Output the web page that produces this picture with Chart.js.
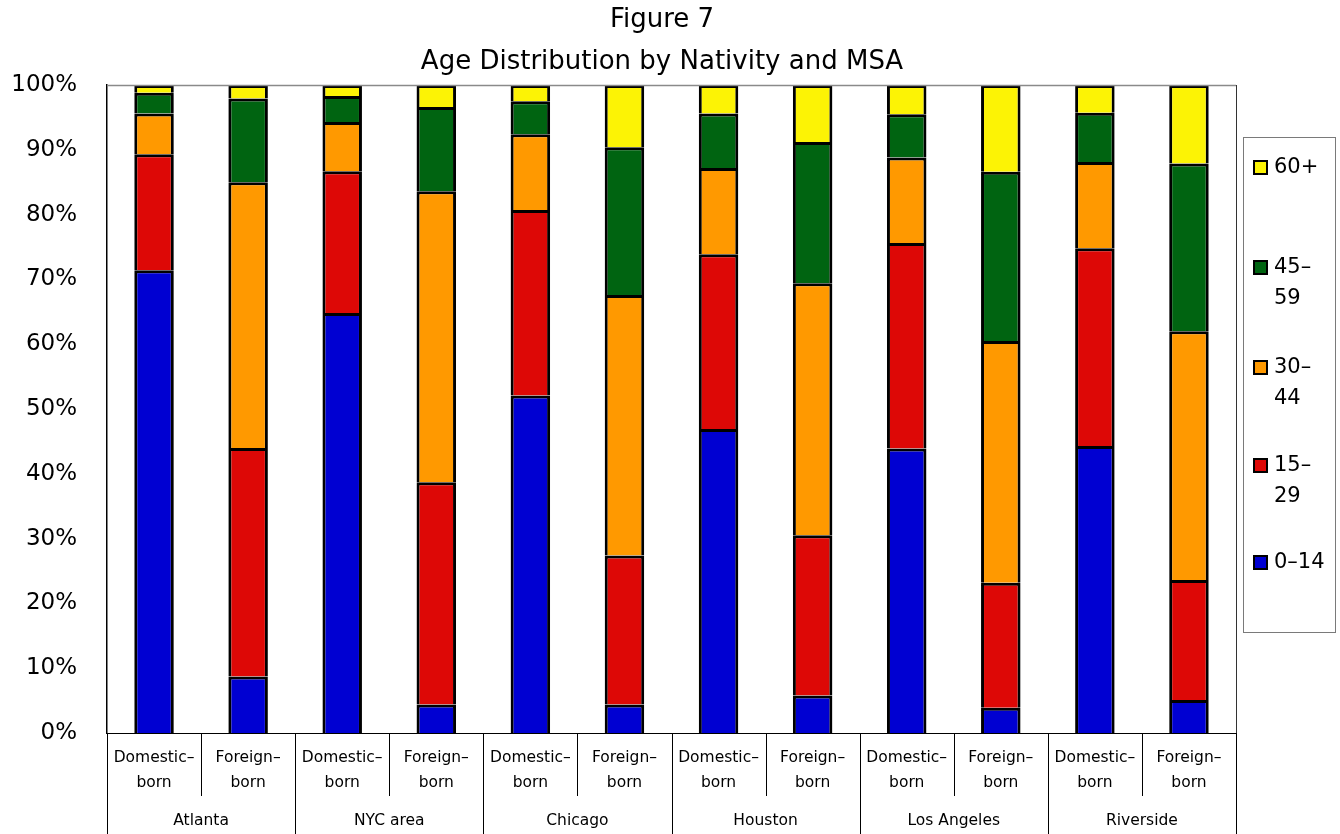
<!DOCTYPE html>
<html>
<head>
<meta charset="utf-8">
<script src="https://cdn.jsdelivr.net/npm/chart.js@4/dist/chart.umd.min.js"></script>
<style>
  html, body { margin: 0; padding: 0; background: #ffffff; }
  #wrap { width: 1340px; height: 834px; position: relative; }
</style>
</head>
<body>
<div id="wrap"><canvas id="c" width="1340" height="834"></canvas></div>
<script>
// ---- Data ----
const subLabels = ["Domestic–born", "Foreign–born", "Domestic–born", "Foreign–born", "Domestic–born", "Foreign–born",
                   "Domestic–born", "Foreign–born", "Domestic–born", "Foreign–born", "Domestic–born", "Foreign–born"];
const groupLabels = ["Atlanta", "NYC area", "Chicago", "Houston", "Los Angeles", "Riverside"];
const seriesNames = ["0–14", "15–29", "30–44", "45–59", "60+"];
const age0to14  = [71.4, 8.7, 64.8, 4.4, 52.1, 4.4, 46.9, 5.8, 43.9, 3.9, 44.3, 5.1];
const age15to29 = [17.9, 35.3, 21.9, 34.3, 28.6, 23.0, 27.0, 24.7, 31.7, 19.3, 30.5, 18.5];
const age30to44 = [6.3, 41.0, 7.6, 44.9, 11.7, 40.2, 13.3, 38.9, 13.2, 37.3, 13.3, 38.4];
const age45to59 = [3.2, 12.9, 4.0, 13.0, 5.1, 22.8, 8.4, 21.8, 6.7, 26.1, 7.6, 25.9];
const age60plus = [1.2, 2.1, 1.7, 3.4, 2.5, 9.6, 4.4, 8.8, 4.5, 13.4, 4.3, 12.1];
const yTicks = [0, 10, 20, 30, 40, 50, 60, 70, 80, 90, 100];
const titleLines = ["Figure 7", "Age Distribution by Nativity and MSA"];
// legend text split into lines as in the reference
const legendLines = [["0–14"], ["15–", "29"], ["30–", "44"], ["45–", "59"], ["60+"]];

// ---- Styles ----
const FONT = "'DejaVu Sans', 'Lucida Grande', Verdana, sans-serif";
const colors = ["#0000D2", "#DD0806", "#FF9900", "#006411", "#FCF305"];
const seriesValues = [age0to14, age15to29, age30to44, age45to59, age60plus];

const datasets = seriesNames.map((name, i) => ({
  label: name,
  data: seriesValues[i],
  backgroundColor: colors[i],
  borderColor: "#000000",
  borderWidth: 3,
  borderSkipped: "start",
  inflateAmount: 0,
  barPercentage: 0.42,
  categoryPercentage: 1.0
}));

const frameAndLabels = {
  id: "frameAndLabels",
  afterDraw(chart) {
    const ctx = chart.ctx;
    const a = chart.chartArea;
    const xs = chart.scales.x;
    const n = subLabels.length;
    const cw = (a.right - a.left) / n;
    ctx.save();
    // title
    ctx.fillStyle = "#000000";
    ctx.textAlign = "center";
    ctx.textBaseline = "middle";
    ctx.font = "26px " + FONT;
    ctx.fillText(titleLines[0], 662, 20);
    ctx.fillText(titleLines[1], 662, 62);
    // top & right frame
    ctx.strokeStyle = "#8a8a8a";
    ctx.lineWidth = 1.5;
    ctx.beginPath();
    ctx.moveTo(a.left, a.top + 0.5);
    ctx.lineTo(a.right, a.top + 0.5);
    ctx.stroke();
    ctx.strokeStyle = "#333333";
    ctx.lineWidth = 1;
    ctx.beginPath();
    ctx.moveTo(a.right + 0.5, a.top);
    ctx.lineTo(a.right + 0.5, a.bottom);
    ctx.stroke();
    // category separators
    ctx.strokeStyle = "#000000";
    ctx.lineWidth = 1;
    for (let k = 0; k <= n; k++) {
      const x = Math.round(a.left + k * cw) + 0.5;
      const y2 = (k % 2 === 0) ? chart.height : a.bottom + 63;
      ctx.beginPath();
      ctx.moveTo(x, a.bottom);
      ctx.lineTo(x, y2);
      ctx.stroke();
    }
    // sub labels
    ctx.font = "15.5px " + FONT;
    for (let i = 0; i < n; i++) {
      const x = xs.getPixelForValue(i);
      const parts = subLabels[i].split("–");
      ctx.fillText(parts[0] + "–", x, a.bottom + 25);
      ctx.fillText(parts[1], x, a.bottom + 50);
    }
    // group labels
    for (let g = 0; g < groupLabels.length; g++) {
      const x = (xs.getPixelForValue(2 * g) + xs.getPixelForValue(2 * g + 1)) / 2;
      ctx.fillText(groupLabels[g], x, a.bottom + 88);
    }
    // legend box
    const lx = 1243, ly = 137, lw = 92, lh = 495;
    ctx.strokeStyle = "#7a7a7a";
    ctx.lineWidth = 1;
    ctx.strokeRect(lx + 0.5, ly + 0.5, lw, lh);
    ctx.font = "21px " + FONT;
    ctx.textAlign = "left";
    const itemY = [563, 466, 368, 268, 168];
    for (let i = 0; i < seriesNames.length; i++) {
      const y = itemY[i];
      ctx.fillStyle = colors[i];
      ctx.fillRect(1254, y - 7, 13, 13);
      ctx.strokeStyle = "#000000";
      ctx.lineWidth = 2;
      ctx.strokeRect(1254, y - 7, 13, 13);
      ctx.fillStyle = "#000000";
      legendLines[i].forEach((t, j) => ctx.fillText(t, 1274, y + j * 31));
    }
    ctx.restore();
  }
};

new Chart(document.getElementById("c"), {
  type: "bar",
  data: { labels: subLabels, datasets },
  options: {
    responsive: false,
    animation: false,
    layout: { padding: { left: 0, right: 104, top: 85, bottom: 0 } },
    plugins: {
      legend: { display: false },
      tooltip: { enabled: false },
      title: { display: false }
    },
    scales: {
      x: {
        stacked: true,
        grid: { display: false, drawTicks: false },
        border: { display: true, color: "#000000", width: 1 },
        ticks: { display: false },
        afterFit(scale) { scale.height = 101; }
      },
      y: {
        stacked: true,
        min: 0,
        max: 100,
        afterBuildTicks(scale) { scale.ticks = yTicks.map(v => ({ value: v })); },
        grid: { display: false, drawTicks: false },
        border: { display: true, color: "#000000", width: 1.5 },
        ticks: {
          color: "#000000",
          padding: 30,
          font: { family: FONT, size: 23 },
          callback: v => v + "%"
        },
        afterFit(scale) { scale.width = 107; }
      }
    }
  },
  plugins: [frameAndLabels]
});
</script>
</body>
</html>
